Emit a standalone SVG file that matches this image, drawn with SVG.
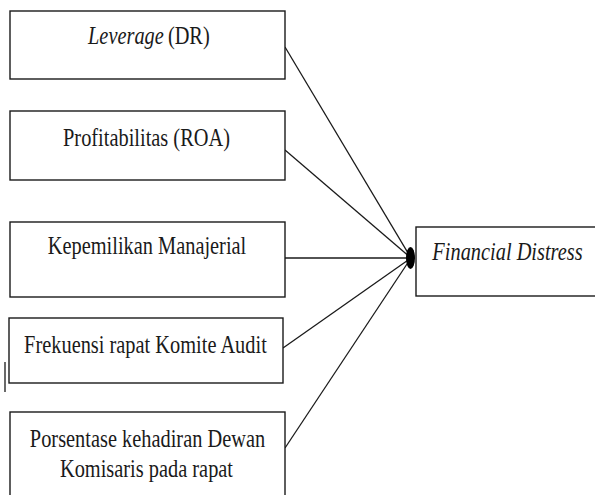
<svg xmlns="http://www.w3.org/2000/svg" width="595" height="495" viewBox="0 0 595 495">
<style>
.box{fill:#fff;stroke:#1a1a1a;stroke-width:1.4}
.t{font-family:"Liberation Serif","Times New Roman",serif;font-size:25px;fill:#1a1a1a;text-anchor:middle}
.s{text-anchor:start}
.i{font-style:italic}
.c{stroke:#1a1a1a;stroke-width:1.3;fill:none}
</style>
<rect width="595" height="495" fill="#fff"/>
<g id="connectors">
<line class="c" x1="285" y1="47" x2="411" y2="258"/>
<line class="c" x1="285" y1="150" x2="411" y2="258"/>
<line class="c" x1="285" y1="258" x2="411" y2="258"/>
<line class="c" x1="283" y1="348" x2="411" y2="258"/>
<line class="c" x1="285" y1="448" x2="411" y2="258"/>
<ellipse cx="410.5" cy="258" rx="4.5" ry="11" fill="#000"/>
<line class="c" x1="5" y1="362" x2="5" y2="392"/>
</g>
<g id="n1">
<rect class="box" x="10" y="11" width="275" height="68"/>
<g transform="scale(0.815,1)">
<text class="t s i" x="108" y="44">Leverage</text>
<text class="t s" x="206" y="44">(DR)</text>
</g>
</g>
<g id="n2">
<rect class="box" x="10" y="111" width="275" height="69"/>
<text class="t" transform="scale(0.815,1)" x="179.75" y="146">Profitabilitas (ROA)</text>
</g>
<g id="n3">
<rect class="box" x="10" y="222" width="275" height="75"/>
<text class="t" transform="scale(0.815,1)" x="180.4" y="254">Kepemilikan Manajerial</text>
</g>
<g id="n4">
<rect class="box" x="9" y="318" width="274" height="65"/>
<text class="t" transform="scale(0.815,1)" x="178.5" y="353">Frekuensi rapat Komite Audit</text>
</g>
<g id="n5">
<rect class="box" x="10" y="412" width="275" height="100"/>
<text class="t" transform="scale(0.815,1)" x="181" y="447">Porsentase kehadiran Dewan</text>
<text class="t" transform="scale(0.815,1)" x="179.75" y="477">Komisaris pada rapat</text>
</g>
<g id="n6">
<rect class="box" x="416" y="227" width="180" height="69"/>
<text class="t i" transform="scale(0.815,1)" x="622.7" y="260">Financial Distress</text>
</g>
</svg>
